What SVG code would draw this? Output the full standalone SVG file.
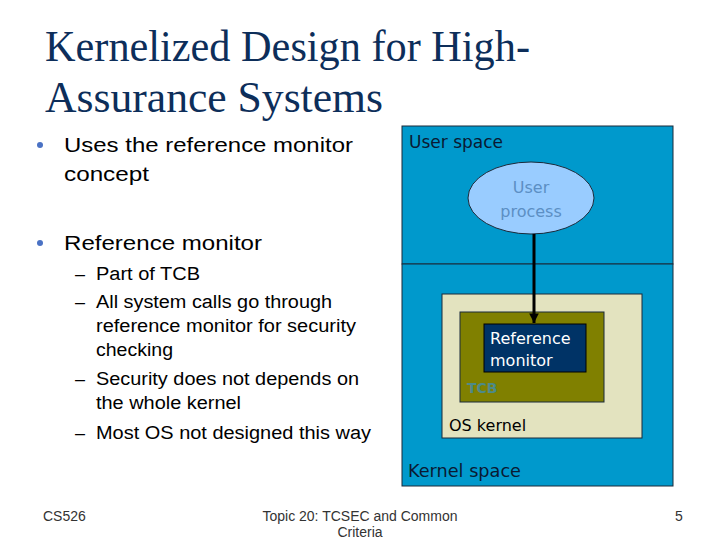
<svg xmlns="http://www.w3.org/2000/svg" width="720" height="540" viewBox="0 0 720 540">
<style>
.title{font-family:"Liberation Serif",serif;font-size:45px;fill:#0d2e5a}
.b1{font-family:"Liberation Sans",Arial,sans-serif;font-size:21px;fill:#000}
.b2{font-family:"Liberation Sans",Arial,sans-serif;font-size:18px;fill:#000}
.dot{fill:#4a72c4}
.t{font-family:"DejaVu Sans",Verdana,sans-serif}
.foot{font-family:"Liberation Sans",Arial,sans-serif;font-size:14px;fill:#333}
</style>
<defs>
<marker id="ah" viewBox="0 0 10 10" refX="10" refY="5" markerWidth="3.2" markerHeight="3.2" orient="auto" markerUnits="strokeWidth">
<path d="M0,0 L10,5 L0,10 z" fill="#000"/>
</marker>
</defs>
<rect width="720" height="540" fill="#fff"/>
<text class="title" x="45" y="61" textLength="485" lengthAdjust="spacingAndGlyphs">Kernelized Design for High-</text>
<text class="title" x="45" y="112" textLength="338" lengthAdjust="spacingAndGlyphs">Assurance Systems</text>
<circle class="dot" cx="40" cy="145" r="3"/>
<text class="b1" x="64" y="152" textLength="289" lengthAdjust="spacingAndGlyphs">Uses the reference monitor</text>
<text class="b1" x="64" y="181" textLength="85" lengthAdjust="spacingAndGlyphs">concept</text>
<circle class="dot" cx="40" cy="243" r="3"/>
<text class="b1" x="64" y="250" textLength="198" lengthAdjust="spacingAndGlyphs">Reference monitor</text>
<g class="b2">
<text x="75" y="280">–</text><text x="96" y="280" textLength="104" lengthAdjust="spacingAndGlyphs">Part of TCB</text>
<text x="75" y="308">–</text><text x="96" y="308" textLength="236" lengthAdjust="spacingAndGlyphs">All system calls go through</text>
<text x="96" y="332" textLength="260" lengthAdjust="spacingAndGlyphs">reference monitor for security</text>
<text x="96" y="356" textLength="77" lengthAdjust="spacingAndGlyphs">checking</text>
<text x="75" y="385">–</text><text x="96" y="385" textLength="263" lengthAdjust="spacingAndGlyphs">Security does not depends on</text>
<text x="96" y="409" textLength="145" lengthAdjust="spacingAndGlyphs">the whole kernel</text>
<text x="75" y="439">–</text><text x="96" y="439" textLength="275" lengthAdjust="spacingAndGlyphs">Most OS not designed this way</text>
</g>
<g id="user-space">
<rect x="402" y="126" width="271" height="138" fill="#0099cc" stroke="#1a2a3a" stroke-width="1"/>
<text class="t" x="409" y="148" font-size="17" fill="#0a1a33">User space</text>
</g>
<g id="kernel-space">
<rect x="402" y="264" width="271" height="222" fill="#0099cc" stroke="#1a2a3a" stroke-width="1"/>
<text class="t" x="408" y="477" font-size="17" fill="#0a1a33" textLength="113" lengthAdjust="spacingAndGlyphs">Kernel space</text>
</g>
<g id="os-kernel">
<rect x="442" y="294" width="200" height="144" fill="#e3e3bf" stroke="#1a2a3a" stroke-width="1"/>
<text class="t" x="449" y="431" font-size="16" fill="#000">OS kernel</text>
</g>
<g id="tcb">
<rect x="460" y="312" width="144" height="90" fill="#808000" stroke="#1a2a3a" stroke-width="1"/>
<text class="t" x="467" y="393" font-size="14" font-weight="bold" fill="#4d8a8a">TCB</text>
</g>
<g id="reference-monitor">
<rect x="484" y="324" width="102" height="48" fill="#003366" stroke="#000" stroke-width="1"/>
<text class="t" x="490" y="344" font-size="16" fill="#fff">Reference</text>
<text class="t" x="490" y="366" font-size="16" fill="#fff">monitor</text>
</g>
<g id="user-process">
<ellipse cx="531" cy="198" rx="63" ry="36" fill="#99ccff" stroke="#1a2a3a" stroke-width="1"/>
<text class="t" x="531" y="193" font-size="16" fill="#5c8fc4" text-anchor="middle">User</text>
<text class="t" x="531" y="217" font-size="16" fill="#5c8fc4" text-anchor="middle">process</text>
</g>
<g id="connectors">
<line x1="534" y1="234" x2="534" y2="323" stroke="#000" stroke-width="3" marker-end="url(#ah)"/>
</g>
<text class="foot" x="43" y="521">CS526</text>
<text class="foot" x="360" y="521" text-anchor="middle">Topic 20: TCSEC and Common</text>
<text class="foot" x="360" y="537" text-anchor="middle">Criteria</text>
<text class="foot" x="679" y="521" text-anchor="middle">5</text>
</svg>
